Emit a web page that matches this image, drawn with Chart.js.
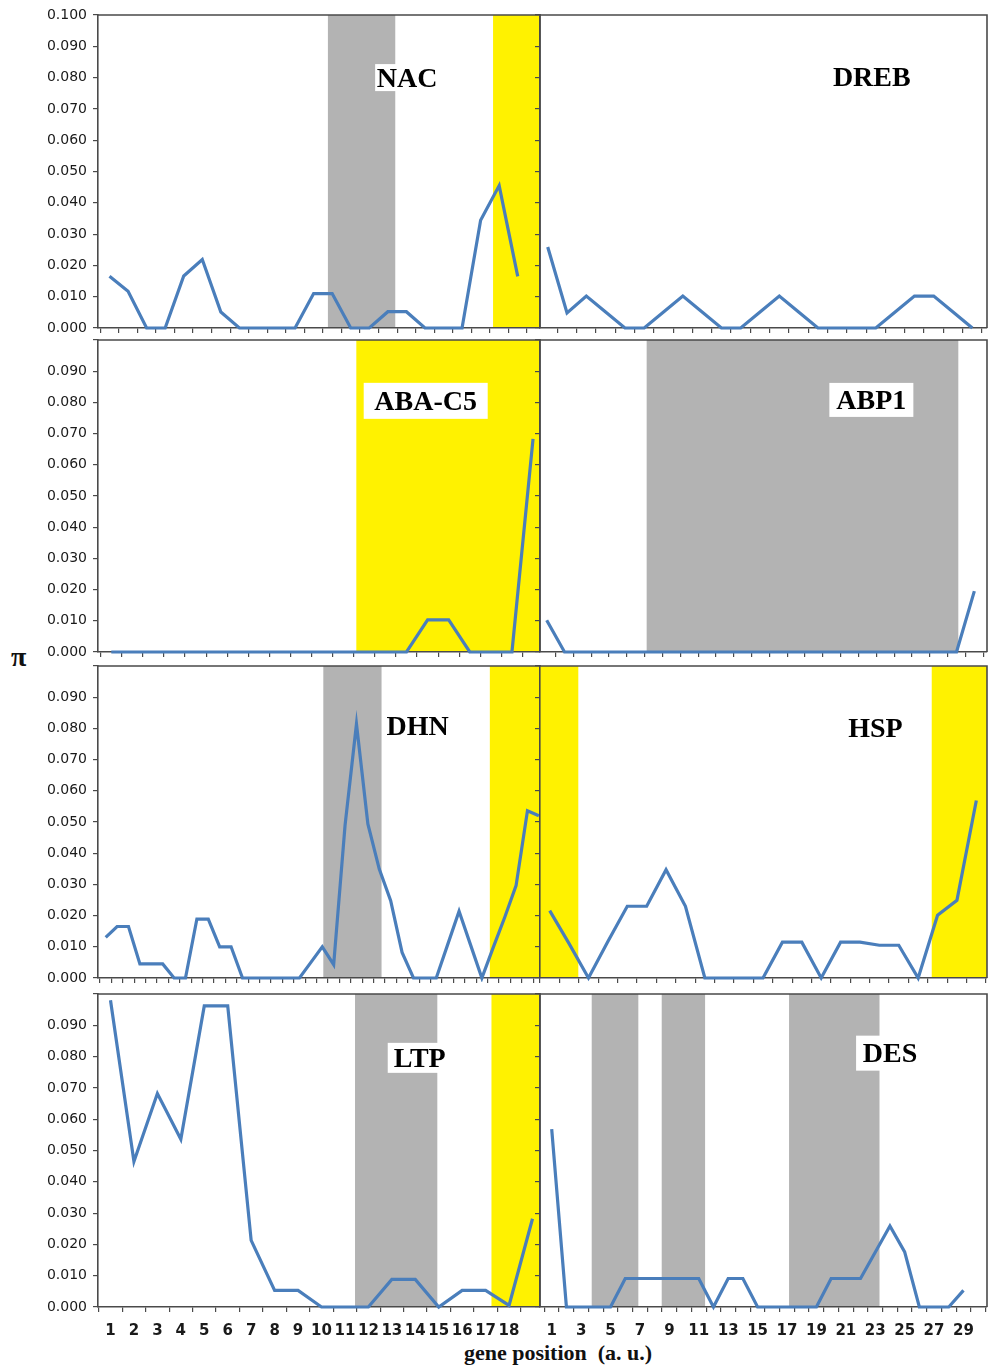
<!DOCTYPE html>
<html lang="en">
<head>
<meta charset="utf-8">
<title>Nucleotide diversity (π) along stress-related genes</title>
<script src="https://cdn.jsdelivr.net/npm/chart.js@4.4.1/dist/chart.umd.min.js"></script>
<style>
  html, body { margin: 0; padding: 0; background: #ffffff; }
  #figure { position: relative; width: 990px; height: 1367px; overflow: hidden; background: #ffffff; }
  #figure canvas { position: absolute; }
  .axis-symbol { position: absolute; left: 11px; top: 643px; font: bold 28px "Liberation Serif", "Times New Roman", serif; line-height: 28px; color: #111; }
  .axis-title { position: absolute; left: 358px; width: 400px; top: 1340px; text-align: center; white-space: pre;
                font: bold 22px "Liberation Serif", "Times New Roman", serif; line-height: 26px; color: #111; }
</style>
</head>
<body>
<div id="figure">
  <div class="axis-symbol">π</div>
  <div class="axis-title">gene position  (a. u.)</div>
</div>
<script>
// Nucleotide diversity π at successive positions along each gene
const nacPi  = [0.0165, 0.0117, 0, 0, 0.0166, 0.0219, 0.0051, 0, 0, 0, 0, 0.0110, 0.0110, 0, 0, 0.0052, 0.0052, 0, 0, 0, 0.0344, 0.0455, 0.0165];
const drebPi = [0.0259, 0.0048, 0.0102, 0.0051, 0, 0, 0.0051, 0.0102, 0.0051, 0, 0, 0.0051, 0.0102, 0.0051, 0, 0, 0, 0, 0.0051, 0.0102, 0.0102, 0.0051, 0];
const abaPi  = [0, 0, 0, 0, 0, 0, 0, 0, 0, 0, 0, 0, 0, 0, 0, 0.0103, 0.0103, 0, 0, 0, 0.0683];
const abp1Pi = [0.0102, 0, 0, 0, 0, 0, 0, 0, 0, 0, 0, 0, 0, 0, 0, 0, 0, 0, 0, 0, 0, 0, 0, 0, 0.0195];
const dhnPi  = [0.0130, 0.0165, 0.0165, 0.0045, 0.0045, 0.0045, 0, 0, 0.0189, 0.0189, 0.0100, 0.0100, 0, 0, 0, 0, 0, 0, 0.0050, 0.0100,
                0.0043, 0.0490, 0.0814, 0.0494, 0.0349, 0.0248, 0.0082, 0, 0, 0, 0.0107, 0.0214, 0.0107, 0, 0.0098, 0.0194, 0.0296, 0.0536, 0.0520];
const hspPi  = [0.0216, 0.0110, 0, 0.0117, 0.0230, 0.0230, 0.0347, 0.0230, 0, 0, 0, 0, 0.0115, 0.0115, 0, 0.0115, 0.0115, 0.0105, 0.0105, 0, 0.0201, 0.0249, 0.0569];
const ltpPi  = [0.0980, 0.0465, 0.0682, 0.0536, 0.0962, 0.0962, 0.0213, 0.0053, 0.0053, 0, 0, 0, 0.0088, 0.0088, 0, 0.0053, 0.0053, 0.0005, 0.0282];
const desPi  = [0.0568, 0, 0, 0, 0, 0.0091, 0.0091, 0.0091, 0.0091, 0.0091, 0.0091, 0, 0.0091, 0.0091, 0, 0, 0, 0, 0, 0.0091, 0.0091, 0.0091, 0.0175, 0.0259, 0.0176, 0, 0, 0, 0.0053];

// Tick values
const piTicks = [0, 0.01, 0.02, 0.03, 0.04, 0.05, 0.06, 0.07, 0.08, 0.09, 0.1];
const ltpPositions = [1, 2, 3, 4, 5, 6, 7, 8, 9, 10, 11, 12, 13, 14, 15, 16, 17, 18];
const desPositions = [1, 3, 5, 7, 9, 11, 13, 15, 17, 19, 21, 23, 25, 27, 29];

// Shaded domains in gene-position units (null: runs to the end of the axis)
const nacGrey    = [[12.77, 16.40]];
const nacYellow  = [[21.67, null]];
const abaYellow  = [[12.62, null]];
const abp1Grey   = [[6.61, 24.10]];
const dhnGrey    = [[20.09, 25.20]];
const dhnYellow  = [[34.70, null]];
const hspYellow  = [[null, 2.475], [20.70, null]];
const ltpGrey    = [[11.43, 14.94]];
const ltpYellow  = [[17.25, null]];
const desGrey    = [[3.72, 6.89], [8.48, 11.43], [17.14, 23.29]];

const COLORS = { line: '#4a7ebb', frame: '#4a4a4a', grey: '#b3b3b3', yellow: '#fff200', text: '#1a1a1a', label: '#000000' };
const ROWS = [
  { top: 15,  bottom: 328 },
  { top: 340, bottom: 652 },
  { top: 666, bottom: 978 },
  { top: 994, bottom: 1307 }
];
const COLS = [
  { canvasLeft: 0,   left: 98,  right: 540, canvasRight: 545 },
  { canvasLeft: 528, left: 540, right: 987, canvasRight: 990 }
];
const PAD_TOP = 18, PAD_BOTTOM = 14, TICK_BAND = 6, LABEL_BAND = 34;

const panels = [
  { name: 'NAC',    row: 0, col: 0, pi: nacPi,  min: 0.38,  max: 24.2,  grey: nacGrey,  yellow: nacYellow,
    label: { x: 17.04, y: 0.0800, box: [64, 27] } },
  { name: 'DREB',   row: 0, col: 1, pi: drebPi, min: 0.60,  max: 23.76,
    label: { x: 17.79, y: 0.0803 } },
  { name: 'ABA-C5', row: 1, col: 0, pi: abaPi,  min: 0.37,  max: 21.33, yellow: abaYellow,
    label: { x: 15.91, y: 0.0805, box: [124, 36] } },
  { name: 'ABP1',   row: 1, col: 1, pi: abp1Pi, min: 0.624, max: 25.71, grey: abp1Grey,
    label: { x: 19.22, y: 0.0808, box: [84, 34] } },
  { name: 'DHN',    row: 2, col: 0, pi: dhnPi,  min: 0.325, max: 39.1,  grey: dhnGrey,  yellow: dhnYellow,
    label: { x: 28.37, y: 0.0808 } },
  { name: 'HSP',    row: 2, col: 1, pi: hspPi,  min: 0.50,  max: 23.55, yellow: hspYellow,
    label: { x: 17.80, y: 0.0803 } },
  { name: 'LTP',    row: 3, col: 0, pi: ltpPi,  min: 0.467, max: 19.32, grey: ltpGrey,  yellow: ltpYellow,
    label: { x: 14.19, y: 0.0796, box: [64, 30] }, positions: ltpPositions },
  { name: 'DES',    row: 3, col: 1, pi: desPi,  min: 0.204, max: 30.6,  grey: desGrey,
    label: { x: 24.01, y: 0.0811, box: [68, 35] }, positions: desPositions }
];

// Tick marks sit between neighbouring positions
function halfSteps(min, max) {
  const out = [];
  for (let v = Math.floor(min) + 0.5; v <= max; v += 1) { if (v >= min) out.push(v); }
  return out;
}

function decorations(p) {
  return {
    id: 'decor',
    beforeDraw(chart) {
      const { ctx, chartArea: a } = chart;
      const xs = chart.scales.x;
      ctx.save();
      const paint = (bands, color) => {
        ctx.fillStyle = color;
        (bands || []).forEach(([s, e]) => {
          const x1 = Math.max(s === null ? a.left : xs.getPixelForValue(s), a.left);
          const x2 = Math.min(e === null ? a.right : xs.getPixelForValue(e), a.right);
          ctx.fillRect(x1, a.top, x2 - x1, a.bottom - a.top);
        });
      };
      paint(p.grey, COLORS.grey);
      paint(p.yellow, COLORS.yellow);
      ctx.restore();
    },
    beforeDatasetsDraw(chart) {
      const { ctx, chartArea: a } = chart;
      ctx.save();
      ctx.strokeStyle = COLORS.frame;
      ctx.lineWidth = 1.6;
      ctx.beginPath();
      ctx.moveTo(a.left, a.top);
      ctx.lineTo(a.right, a.top);
      ctx.lineTo(a.right, a.bottom);
      ctx.stroke();
      ctx.restore();
    },
    afterDatasetsDraw(chart) {
      const { ctx } = chart;
      const L = p.label;
      const cx = chart.scales.x.getPixelForValue(L.x);
      const cy = chart.scales.y.getPixelForValue(L.y);
      const size = 28;
      ctx.save();
      if (L.box) {
        ctx.fillStyle = '#ffffff';
        ctx.fillRect(cx - L.box[0] / 2, cy - L.box[1] / 2, L.box[0], L.box[1]);
      }
      ctx.font = 'bold ' + size + 'px "Liberation Serif", "Times New Roman", serif';
      ctx.fillStyle = COLORS.label;
      ctx.textAlign = 'center';
      ctx.textBaseline = 'alphabetic';
      ctx.fillText(p.name, cx, cy + size * 0.33);
      ctx.restore();
    }
  };
}

const figure = document.getElementById('figure');

panels.forEach(p => {
  const r = ROWS[p.row], c = COLS[p.col];
  const bottomRow = !!p.positions;
  const padBottom = bottomRow ? 0 : PAD_BOTTOM;
  const cw = c.canvasRight - c.canvasLeft;
  const ch = PAD_TOP + (r.bottom - r.top) + TICK_BAND + (bottomRow ? LABEL_BAND : 0) + padBottom;
  const canvas = document.createElement('canvas');
  canvas.width = cw; canvas.height = ch;
  canvas.style.left = c.canvasLeft + 'px';
  canvas.style.top = (r.top - PAD_TOP) + 'px';
  canvas.style.width = cw + 'px';
  canvas.style.height = ch + 'px';
  figure.appendChild(canvas);

  const marks = halfSteps(p.min, p.max);
  const gridStyle = { display: true, drawOnChartArea: false, drawTicks: true, tickLength: 5, color: COLORS.frame, lineWidth: 1.2 };
  const borderStyle = { display: true, color: COLORS.frame, width: 1.6 };

  const scales = {
    x: {
      type: 'linear', position: 'bottom', min: p.min, max: p.max, weight: 0,
      afterBuildTicks: ax => { ax.ticks = marks.map(v => ({ value: v })); },
      ticks: { display: false },
      grid: gridStyle, border: borderStyle,
      afterFit: ax => { ax.height = TICK_BAND; }
    },
    y: {
      type: 'linear', position: 'left', min: 0, max: 0.1,
      afterBuildTicks: ax => { ax.ticks = piTicks.map(v => ({ value: v })); },
      ticks: {
        display: p.col === 0, padding: 6, color: COLORS.text,
        font: { family: '"DejaVu Sans", sans-serif', size: 14 },
        callback: v => (p.row > 0 && v > 0.095) ? '' : v.toFixed(3)
      },
      grid: gridStyle, border: borderStyle,
      afterFit: ax => { ax.width = c.left - c.canvasLeft; }
    }
  };
  if (bottomRow) {
    scales.xl = {
      type: 'linear', position: 'bottom', min: p.min, max: p.max, weight: 1,
      afterBuildTicks: ax => { ax.ticks = p.positions.map(v => ({ value: v })); },
      ticks: {
        display: true, autoSkip: false, maxRotation: 0, padding: 9, color: COLORS.text,
        font: { family: '"DejaVu Sans", sans-serif', size: 15, weight: 'bold' },
        callback: v => String(v)
      },
      grid: { display: false, drawTicks: false },
      border: { display: false },
      afterFit: ax => { ax.height = LABEL_BAND; }
    };
  }

  new Chart(canvas, {
    type: 'line',
    data: {
      datasets: [{
        label: p.name,
        data: p.pi.map((v, i) => ({ x: i + 1, y: v })),
        borderColor: COLORS.line,
        borderWidth: 3.2,
        pointRadius: 0,
        tension: 0,
        fill: false,
        clip: 4
      }]
    },
    options: {
      responsive: false,
      animation: false,
      devicePixelRatio: 1,
      events: [],
      layout: { padding: { top: PAD_TOP, right: c.canvasRight - c.right, bottom: padBottom, left: 0 } },
      plugins: { legend: { display: false }, tooltip: { enabled: false }, title: { display: false } },
      scales
    },
    plugins: [decorations(p)]
  });
});
</script>
</body>
</html>
